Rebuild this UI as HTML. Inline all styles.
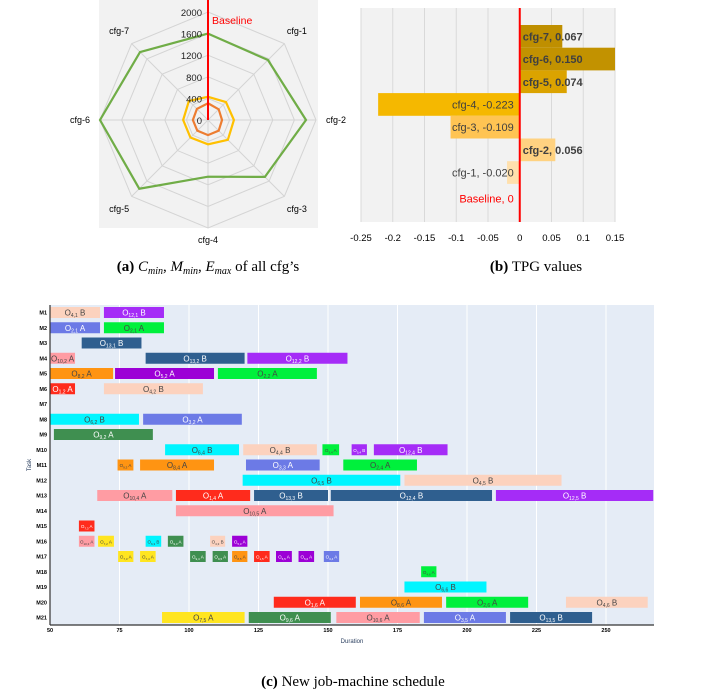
<!DOCTYPE html>
<html><head><meta charset="utf-8"><style>
html,body{margin:0;padding:0;background:#fff;}
svg{display:block;font-family:"Liberation Sans",sans-serif;}
</style></head><body>
<svg id="fig" width="709" height="692" viewBox="0 0 709 692" xmlns="http://www.w3.org/2000/svg">
<g id="radar"></g>
<g id="tpg"></g>
<g id="gantt"></g>
<text x="208" y="271" text-anchor="middle" font-family="Liberation Serif" font-size="15"><tspan font-weight="bold">(a)</tspan> <tspan font-style="italic">C</tspan><tspan font-style="italic" font-size="10" dy="3">min</tspan><tspan dy="-3">, </tspan><tspan font-style="italic">M</tspan><tspan font-style="italic" font-size="10" dy="3">min</tspan><tspan dy="-3">, </tspan><tspan font-style="italic">E</tspan><tspan font-style="italic" font-size="10" dy="3">max</tspan><tspan dy="-3"> of all cfg’s</tspan></text>
<text x="536" y="271" text-anchor="middle" font-family="Liberation Serif" font-size="15"><tspan font-weight="bold">(b)</tspan> TPG values</text>
<text x="353" y="686" text-anchor="middle" font-family="Liberation Serif" font-size="15"><tspan font-weight="bold">(c)</tspan> New job-machine schedule</text>
</svg>
<script>
const NS='http://www.w3.org/2000/svg';
function mk(p,tag,attrs,txt){const e=document.createElementNS(NS,tag);for(const k in attrs)e.setAttribute(k,attrs[k]);if(txt!==undefined)e.textContent=txt;p.appendChild(e);return e;}

// ---------- Radar data ----------
const radarAxes=['Baseline','cfg-1','cfg-2','cfg-3','cfg-4','cfg-5','cfg-6','cfg-7'];
const radarTicks=[0,400,800,1200,1600,2000];
const radarC=[1600,1570,1815,1490,1050,1800,2000,1780];
const radarM=[430,470,480,520,450,460,460,500];
const radarE=[310,280,260,280,280,280,280,290];

// ---------- TPG data ----------
const tpgCats=['cfg-7','cfg-6','cfg-5','cfg-4','cfg-3','cfg-2','cfg-1','Baseline'];
const tpgVals=[0.067,0.150,0.074,-0.223,-0.109,0.056,-0.020,0];
const tpgTicks=[-0.25,-0.2,-0.15,-0.1,-0.05,0,0.05,0.1,0.15];
const tpgColors=['#bf8f00','#c29200','#dba300','#f5b800','#ffc453','#ffd281','#ffe0ad','#ffffff'];

// ---------- Gantt data ----------
const machines=['M1','M2','M3','M4','M5','M6','M7','M8','M9','M10','M11','M12','M13','M14','M15','M16','M17','M18','M19','M20','M21'];
const ganttTicks=[50,75,100,125,150,175,200,225,250];
const gRow=[1,1,2,2,3,4,4,4,5,5,5,6,6,8,8,9,10,10,10,10,10,11,11,11,11,12,12,13,13,13,13,13,14,15,16,16,16,16,16,16,17,17,17,17,17,17,17,17,17,18,19,20,20,20,20,21,21,21,21,21];
const gStart=[50,69.4,50,69.4,61.4,50,84.4,121,50,73.4,110.4,50,69.4,50,83.5,51.4,91.4,119.5,148,158.5,166.5,74.3,82.4,120.5,155.5,119.3,177.5,67,95.3,123.4,151,210.4,95.3,60.4,60.4,67.3,84.4,92.4,107.6,115.5,74.5,82.4,100.4,108.5,115.5,123.4,131.3,139.4,148.5,183.5,177.5,130.5,161.5,192.5,235.6,90.3,121.5,153,184.5,215.5];
const gEnd=[68,91,68,91,82.9,59,120,157,72.7,109,146,59,105,82,119,87,118,146,154,164,193,80,109,147,182,176,234,94,122,150,209,267,152,66,66,73,90,98,113,121,80,88,106,114,121,129,137,145,154,189,207,160,191,222,265,120,151,183,214,245];
const gOp=['4,1','12,1','2,1','2,1','13,1','10,2','13,2','12,2','8,2','5,2','2,2','1,2','4,2','6,2','3,2','9,2','6,4','4,4','3,4','5,4','12,4','9,3','8,4','3,3','2,4','6,5','4,5','10,4','1,4','13,3','12,4','12,5','10,5','7,3','10,3','7,2','6,3','9,3','4,3','5,3','7,3','7,4','9,4','9,5','8,5','1,5','5,5','5,6','3,4','4,6','6,6','1,6','8,6','2,6','4,6','7,5','9,6','10,6','3,5','13,5'];
const gCfg=['B','B','A','A','B','A','B','B','A','A','A','A','B','B','A','A','B','B','A','B','B','A','A','A','A','B','B','A','A','B','B','B','A','A','A','A','B','A','B','A','A','A','A','A','A','A','A','A','A','A','B','A','A','A','B','A','A','A','A','B'];
const gKind=['pe','pu','la','gr','db','pk','db','pu','or','vi','gr','rd','pe','cy','la','dg','cy','pe','gr','pu','pu','or','or','la','gr','cy','pe','pk','rd','db','db','pu','pk','rd','pk','ye','cy','dg','pe','vi','ye','ye','dg','dg','or','rd','vi','vi','la','gr','cy','rd','or','gr','pe','ye','dg','pk','la','db'];
const kindColor={pe:'#fcd2be',pu:'#a52cf7',la:'#6c7ae6',gr:'#00f03c',db:'#2f5f8f',pk:'#ff9ca3',or:'#ff9412',vi:'#9c00d6',rd:'#ff2b1c',cy:'#00f5ff',dg:'#3f8f50',ye:'#ffe520'};
const lightKind={pe:1,gr:1,pk:1,or:1,cy:1,ye:1};

// ===== Radar =====
(function(){
 const g=document.getElementById('radar');
 const cx=208,cy=120,R=108,max=2000;
 const rs=v=>v/max*R;
 const pt=(i,v)=>{const a=i*Math.PI*2/radarAxes.length;return [cx+rs(v)*Math.sin(a),cy-rs(v)*Math.cos(a)];};
 const bg=mk(g,'rect',{x:99,y:0,width:219,height:228,fill:'#f2f2f2'});
 
 radarTicks.slice(1).forEach(t=>{
  const ring=mk(g,'polygon',{points:radarAxes.map((a,i)=>pt(i,t).join(',')).join(' '),fill:'none',stroke:'#d4d4d4','stroke-width':1});
  
 });
 radarAxes.forEach((a,i)=>{
  const p=pt(i,max);
  const sp=mk(g,'line',{x1:cx,y1:cy,x2:p[0],y2:p[1],stroke:'#d4d4d4','stroke-width':1});
  
  if(i===0)return;
  const ang=i*Math.PI*2/radarAxes.length;
  const lr=120+Math.abs(Math.sin(ang))*8;
  const lx=cx+lr*Math.sin(ang),ly=cy-lr*Math.cos(ang)*1.0+3;
  const t=mk(g,'text',{x:lx,y:ly,'text-anchor':'middle','font-size':9,fill:'#000'},a);
  
 });
 const series=[[radarC,'#70ad47','series-cmin'],[radarM,'#ffc000','series-mmin'],[radarE,'#ed7d31','series-emax']];
 series.forEach(s=>{
  const pl=mk(g,'polygon',{points:s[0].map((v,i)=>pt(i,v).join(',')).join(' '),fill:'none',stroke:s[1],'stroke-width':2.2});
  
 });
 radarTicks.forEach(t=>{
  const tx=mk(g,'text',{x:cx-6,y:cy-rs(t)+4,'text-anchor':'end','font-size':9.5,fill:'#222'},String(t));
  
 });
 const bl=mk(g,'line',{x1:cx,y1:cy,x2:cx,y2:0,stroke:'#ff0000','stroke-width':2});
 
 const bt=mk(g,'text',{x:cx+4,y:24,'font-size':10.5,fill:'#ff0000'},'Baseline');
 
})();

// ===== TPG =====
(function(){
 const g=document.getElementById('tpg');
 const x0=361,x1=615,vmin=-0.25,vmax=0.15;
 const xs=v=>x0+(v-vmin)/(vmax-vmin)*(x1-x0);
 const top=25,band=22.7;
 const bg=mk(g,'rect',{x:xs(-0.25),y:8,width:x1-x0,height:214,fill:'#f2f2f2'});
 
 tpgTicks.forEach(t=>{
  const l=mk(g,'line',{x1:xs(t),y1:8,x2:xs(t),y2:222,stroke:'#d9d9d9','stroke-width':1});
  
  const tx=mk(g,'text',{x:xs(t),y:241,'text-anchor':'middle','font-size':9.5,fill:'#000'},String(t));
  
 });
 tpgCats.forEach((c,i)=>{
  const v=tpgVals[i];const y=top+i*band+(i===7?3:0);
  const b=mk(g,'rect',{x:Math.min(xs(0),xs(v)),y:y,width:Math.abs(xs(v)-xs(0)),height:band,fill:tpgColors[i]});
  
  const lbl=c+', '+(v===0?'0':v.toFixed(3));
  const t=mk(g,'text',{x:v>0?xs(0)+3:xs(0)-6,y:y+band/2+4,'text-anchor':v>0?'start':'end','font-size':11,fill:c==='Baseline'?'#ff0000':'#404040','font-weight':(v>0)?'bold':'normal'},lbl);
  
 });
 const zl=mk(g,'line',{x1:xs(0),y1:8,x2:xs(0),y2:222,stroke:'#ff0000','stroke-width':2});
 
})();

// ===== Gantt =====
(function(){
 const g=document.getElementById('gantt');
 const px0=50,pxr=654,vmin=50,scale=2.78;
 const xs=v=>px0+(v-vmin)*scale;
 const y0=312.5,rowH=15.25,bh=11;
 const bg=mk(g,'rect',{x:px0,y:305,width:pxr-px0,height:320,fill:'#e5ecf6'});
 
 ganttTicks.forEach(t=>{
  const l=mk(g,'line',{x1:xs(t),y1:305,x2:xs(t),y2:625,stroke:'#fff','stroke-width':1});
  
  const tx=mk(g,'text',{x:xs(t),y:632,'text-anchor':'middle','font-size':5.5,'font-weight':'bold',fill:'#000'},String(t));
  
 });
 machines.forEach((m,i)=>{
  const t=mk(g,'text',{x:47,y:y0+i*rowH+2,'text-anchor':'end','font-size':5.5,'font-weight':'bold',fill:'#000'},m);
  
 });
 gRow.forEach((r,i)=>{
  const k=gKind[i];
  const x=xs(gStart[i]),w=xs(gEnd[i])-xs(gStart[i]),y=y0+(r-1)*rowH-bh/2;
  const b=mk(g,'rect',{x:x,y:y,width:w,height:bh,fill:kindColor[k]});
  
  const fc=lightKind[k]?'#444':'#fff';
  const small=w<25;
  const t=mk(g,'text',{x:x+w/2,y:y+bh/2+(small?2:3),'text-anchor':'middle','font-size':small?4.5:8,fill:fc});
  
  mk(t,'tspan',{},'O');
  mk(t,'tspan',{'font-size':small?3:5,dy:1.5},gOp[i]);
  mk(t,'tspan',{dy:-1.5},' '+gCfg[i]);
 });
 const ax=mk(g,'line',{x1:px0,y1:305,x2:px0,y2:625,stroke:'#333','stroke-width':1.2});
 
 const bx=mk(g,'line',{x1:px0,y1:625,x2:pxr,y2:625,stroke:'#333','stroke-width':1.2});
 
 const xt=mk(g,'text',{x:352,y:643,'text-anchor':'middle','font-size':6,fill:'#2a3f5f'},'Duration');
 
 const yt=mk(g,'text',{x:31,y:465,'text-anchor':'middle','font-size':6,fill:'#2a3f5f',transform:'rotate(-90 31 465)'},'Task');
 
})();
</script>
</body></html>
